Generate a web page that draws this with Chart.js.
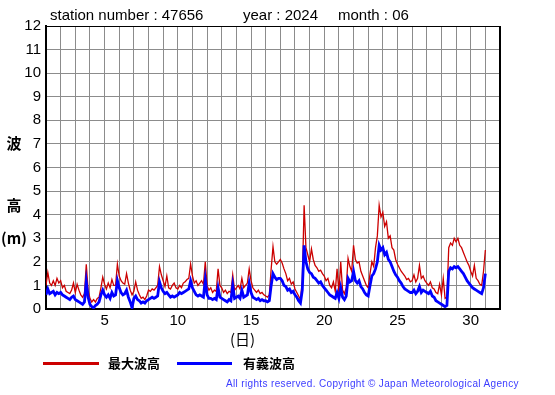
<!DOCTYPE html>
<html lang="ja">
<head>
<meta charset="UTF-8">
<title>波高 47656 2024-06</title>
<script src="https://cdn.jsdelivr.net/npm/chart.js"></script>
<style>
  html, body { margin: 0; padding: 0; background: #fff; }
  #wrap { position: relative; width: 555px; height: 395px; overflow: hidden; font-family: "Liberation Sans", Arial, sans-serif; color: #000; }
  #chart { position: absolute; left: 0; top: 0; }
  .t { position: absolute; white-space: nowrap; }
  .head { top: 6px; font-size: 15px; }
  .jp { font-family: "Noto Sans CJK JP", sans-serif; font-weight: bold; }
  .ylab { left: 0; width: 28px; text-align: center; font-size: 15px; line-height: 16px; }
  .key { position: absolute; height: 3px; top: 362px; }
  .keytxt { top: 354px; font-size: 13px; line-height: 18px; }
  #copy { left: 226px; top: 378px; font-size: 10px; letter-spacing: 0.35px; color: #3c3cff; }
</style>
</head>
<body>
<div id="wrap">
  <canvas id="chart" width="555" height="395"></canvas>

  <div class="t head" style="left:50px">station number : 47656</div>
  <div class="t head" style="left:243px">year : 2024</div>
  <div class="t head" style="left:338px">month : 06</div>

  <div class="t ylab jp" style="top:135px">波</div>
  <div class="t ylab jp" style="top:197px">高</div>
  <div class="t ylab jp" style="top:230px">(m)</div>

  <div class="t jp" style="left:230px; top:328px; font-size:15px; font-weight:normal">(日)</div>

  <div class="key" style="left:43px; width:56px; background:#cc0000"></div>
  <div class="t keytxt jp" style="left:108px">最大波高</div>
  <div class="key" style="left:177px; width:55px; background:#0000ff"></div>
  <div class="t keytxt jp" style="left:243px">有義波高</div>

  <div class="t" id="copy">All rights reserved. Copyright © Japan Meteorological Agency</div>
</div>

<script>
  // 3-hourly values, June 1 00h .. July 1 00h
  const startDay = 1;
  const stepsPerDay = 8;
  const xTickLabels = [5, 10, 15, 20, 25, 30];

  // 最大波高 (m)
  const maxWave = [
    1.0, 1.55, 1.1, 1.0, 1.2, 1.0, 1.3, 1.1,
    1.2, 0.9, 1.0, 0.75, 0.7, 0.65, 0.8, 1.1,
    0.7, 1.05, 0.8, 0.6, 0.5, 0.65, 1.9, 0.8,
    0.45, 0.3, 0.4, 0.3, 0.45, 0.5, 0.9, 1.35,
    1.05, 0.85, 1.1, 0.9, 1.25, 1.0, 1.0, 1.9,
    1.4, 1.2, 1.1, 1.05, 1.5, 1.1, 0.8, 0.6,
    0.75, 1.15, 0.8, 0.6, 0.45, 0.5, 0.4, 0.55,
    0.8, 0.75, 0.85, 0.8, 0.9, 1.0, 1.8, 1.45,
    1.2, 0.95, 1.4, 0.9, 0.85, 1.0, 1.1, 0.9,
    0.85, 1.0, 0.9, 1.1, 1.15, 1.25, 1.3, 1.9,
    1.4, 1.1, 1.2, 1.0, 1.1, 1.2, 1.05, 2.0,
    1.0, 0.8, 0.9, 0.7, 0.8, 0.75, 1.7, 1.0,
    0.9, 0.7, 0.8, 0.65, 0.75, 0.7, 1.45, 0.8,
    0.9, 1.0, 0.85, 1.3, 0.9, 1.0, 1.1, 1.7,
    1.2, 0.9, 0.8, 0.7, 0.8, 0.65, 0.7, 0.6,
    0.55, 0.5, 0.6, 1.7, 2.64, 2.0, 1.9, 2.0,
    2.1, 1.95, 1.7, 1.5, 1.2, 1.3, 1.05, 1.15,
    0.85, 0.7, 0.55, 0.4, 1.2, 4.4, 2.6, 2.3,
    2.0, 2.55, 2.1, 1.85, 1.75, 1.6, 1.65, 1.5,
    1.4, 1.2, 1.3, 1.0, 0.9, 1.15, 0.75, 1.7,
    0.7, 2.0, 0.8, 0.65, 0.9, 2.15, 1.8, 1.6,
    2.7, 2.1, 1.95, 2.0, 1.6, 1.4, 1.2, 1.0,
    0.9, 1.5, 2.0, 1.8, 2.6, 3.1, 4.4, 3.9,
    4.1, 3.5, 3.7, 3.0, 3.1, 2.6, 2.5, 2.1,
    1.9, 1.75, 1.6, 1.5, 1.4, 1.25, 1.3, 1.15,
    1.2, 1.45, 1.15, 1.3, 1.85, 1.3, 1.4, 1.2,
    1.1, 1.0, 1.15, 0.9, 0.85, 0.7, 0.65, 1.05,
    0.6, 1.3, 0.45, 0.5, 2.6, 2.8, 2.7, 3.0,
    2.85, 3.0, 2.7, 2.6, 2.4, 2.2, 2.0, 1.85,
    1.6, 1.4, 1.85, 1.3, 1.2, 1.05, 1.0, 1.6,
    2.5
  ];

  // 有義波高 (m)
  const sigWave = [
    0.6, 0.85, 0.65, 0.7, 0.75, 0.6, 0.7, 0.65,
    0.7, 0.6, 0.55, 0.5, 0.45, 0.4, 0.5, 0.55,
    0.4, 0.35, 0.3, 0.25, 0.2, 0.3, 1.15, 0.5,
    0.2, 0.1, 0.05, 0.15, 0.2, 0.3, 0.6, 0.8,
    0.6, 0.5, 0.6, 0.45, 0.7, 0.55, 0.6, 1.2,
    0.9, 0.7, 0.6, 0.65, 0.8, 0.5, 0.3, 0.05,
    0.45, 0.55, 0.4, 0.35, 0.25, 0.3, 0.25, 0.35,
    0.4, 0.45, 0.5, 0.45, 0.5, 0.55, 1.15, 0.9,
    0.75, 0.65, 0.7, 0.6, 0.5, 0.55, 0.5, 0.55,
    0.6, 0.7, 0.65, 0.7, 0.75, 0.8, 0.85, 1.2,
    0.9, 0.75, 0.6, 0.55, 0.6, 0.55, 0.5, 1.25,
    0.6, 0.45, 0.45, 0.4, 0.45, 0.4, 0.9, 0.5,
    0.45, 0.4, 0.35, 0.3, 0.4, 0.35, 1.0, 0.45,
    0.5, 0.55, 0.45, 0.8, 0.5, 0.55, 0.6, 1.1,
    0.7, 0.5, 0.45, 0.4, 0.45, 0.35, 0.4, 0.35,
    0.35, 0.3, 0.35, 1.0, 1.5, 1.35, 1.25, 1.3,
    1.3, 1.2, 1.0, 0.95, 0.8, 0.85, 0.7, 0.75,
    0.6, 0.5, 0.35, 0.25, 0.8, 2.7, 2.0, 1.7,
    1.55, 1.5, 1.35, 1.3, 1.2, 1.1, 1.15, 1.0,
    0.9, 0.8, 0.7, 0.6, 0.55, 0.5, 0.45, 0.7,
    0.45, 0.9, 0.5, 0.4, 0.55, 1.3, 1.15, 1.2,
    1.6, 1.2, 1.1, 1.2, 0.95, 0.85, 0.7, 0.6,
    0.55, 1.0, 1.4, 1.5, 1.7, 2.0, 2.7, 2.5,
    2.6, 2.3, 2.4, 2.1, 2.0, 1.8, 1.6, 1.45,
    1.35, 1.2, 1.1, 0.95, 0.85, 0.8, 0.75, 0.7,
    0.7, 0.8, 0.65, 0.75, 0.95, 0.7, 0.8, 0.75,
    0.7, 0.65, 0.75, 0.55, 0.5, 0.35, 0.3, 0.25,
    0.2, 0.15, 0.1, 0.15, 1.6, 1.75, 1.7, 1.8,
    1.75, 1.8, 1.7, 1.6, 1.5, 1.35, 1.2, 1.1,
    1.0, 0.9, 0.85, 0.8, 0.75, 0.7, 0.65, 0.9,
    1.5
  ];

  function toPoints(arr) {
    return arr.map((v, i) => ({ x: startDay + i / stepsPerDay, y: v }));
  }

  // top and right edges of the plot frame
  const frame = {
    id: "frame",
    afterDraw(chart) {
      const a = chart.chartArea, c = chart.ctx;
      c.save();
      c.strokeStyle = "#000";
      c.lineWidth = 1;
      c.beginPath();
      c.moveTo(a.left, a.top + 0.5);
      c.lineTo(a.right, a.top + 0.5);
      c.stroke();
      c.lineWidth = 2;
      c.beginPath();
      c.moveTo(a.right, a.top);
      c.lineTo(a.right, a.bottom);
      c.stroke();
      c.restore();
    }
  };

  new Chart(document.getElementById("chart"), {
    type: "line",
    data: {
      datasets: [
        { label: "最大波高", data: toPoints(maxWave), borderColor: "#cc0000", borderWidth: 1.3, pointRadius: 0, tension: 0, order: 2 },
        { label: "有義波高", data: toPoints(sigWave), borderColor: "#0000ff", borderWidth: 2.8, pointRadius: 0, tension: 0, order: 1 }
      ]
    },
    options: {
      responsive: false,
      animation: false,
      layout: { padding: { top: 26, right: 55, left: 0, bottom: 0 } },
      plugins: { legend: { display: false }, tooltip: { enabled: false } },
      scales: {
        x: {
          type: "linear",
          min: 1,
          max: 32,
          afterFit: s => { s.height = 86; },
          grid: { color: "#8c8c8c", drawTicks: false },
          border: { color: "#000", width: 2 },
          ticks: {
            stepSize: 1,
            autoSkip: false,
            maxRotation: 0,
            padding: 3,
            color: "#000",
            font: { family: "Liberation Sans", size: 15 },
            callback: v => xTickLabels.includes(v) ? String(v) : ""
          }
        },
        y: {
          min: 0,
          max: 12,
          afterFit: s => { s.width = 46; },
          grid: { color: "#8c8c8c", drawTicks: false },
          border: { color: "#000", width: 2 },
          ticks: {
            stepSize: 1,
            padding: 5,
            color: "#000",
            font: { family: "Liberation Sans", size: 15 }
          }
        }
      }
    },
    plugins: [frame]
  });
</script>
</body>
</html>
